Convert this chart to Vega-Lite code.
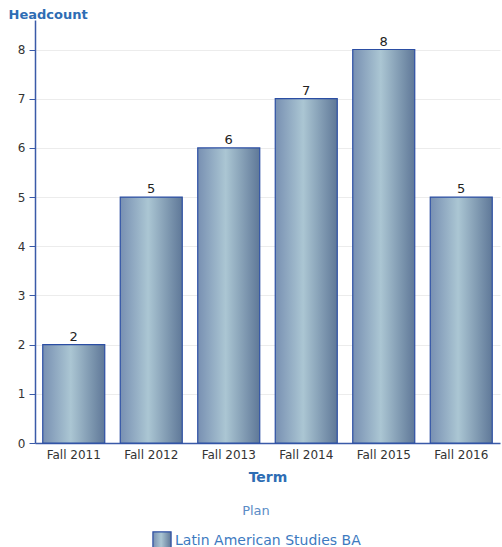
{
  "$schema": "https://vega.github.io/schema/vega-lite/v6.json",
  "width": 465,
  "height": 423,
  "autosize": {"type": "none"},
  "padding": {"left": 35, "top": 20, "right": 2, "bottom": 104},
  "background": "white",
  "config": {
    "view": {"stroke": null},
    "font": "DejaVu Sans"
  },
  "data": {
    "values": [
      {"Term": "Fall 2011", "Headcount": 2, "Plan": "Latin American Studies BA"},
      {"Term": "Fall 2012", "Headcount": 5, "Plan": "Latin American Studies BA"},
      {"Term": "Fall 2013", "Headcount": 6, "Plan": "Latin American Studies BA"},
      {"Term": "Fall 2014", "Headcount": 7, "Plan": "Latin American Studies BA"},
      {"Term": "Fall 2015", "Headcount": 8, "Plan": "Latin American Studies BA"},
      {"Term": "Fall 2016", "Headcount": 5, "Plan": "Latin American Studies BA"}
    ]
  },
  "encoding": {
    "x": {
      "field": "Term", "type": "nominal", "sort": null,
      "scale": {"paddingInner": 0.2, "paddingOuter": 0.1},
      "axis": {
        "title": "Term", "titleColor": "#2e6db4", "titleFontSize": 14, "titleFontWeight": "bold",
        "titleFont": "DejaVu Sans", "titlePadding": 10,
        "labelAngle": 0, "labelFontSize": 12, "labelColor": "#333333", "labelPadding": 6,
        "ticks": false, "domainColor": "#3a5aa8", "domainWidth": 1.5
      }
    },
    "y": {
      "field": "Headcount", "type": "quantitative",
      "scale": {"domain": [0, 8.6], "nice": false},
      "axis": {
        "title": "Headcount", "titleAngle": 0, "titleAlign": "left", "titleBaseline": "middle",
        "titleX": -27, "titleY": -6, "titleColor": "#2e6db4", "titleFontSize": 13, "titleFontWeight": "bold",
        "values": [0, 1, 2, 3, 4, 5, 6, 7, 8],
        "labelFontSize": 12, "labelColor": "#333333", "labelPadding": 4,
        "tickColor": "#3a5aa8", "tickSize": 6, "domainColor": "#3a5aa8", "domainWidth": 1.5,
        "grid": true, "gridColor": "#ececec"
      }
    }
  },
  "layer": [
    {
      "mark": {
        "type": "bar", "strokeWidth": 1.2, "fillOpacity": 1,
        "fill": {"gradient": "linear", "x1": 0, "y1": 0, "x2": 1, "y2": 0,
          "stops": [
            {"offset": 0, "color": "#7890b2"},
            {"offset": 0.45, "color": "#abc6d3"},
            {"offset": 1, "color": "#5f7898"}
          ]}
      },
      "encoding": {
        "stroke": {
          "field": "Plan", "type": "nominal",
          "scale": {"range": ["#2b4ea3"]},
          "legend": {
            "orient": "none", "legendX": 117, "legendY": 485,
            "title": "Plan", "titleOrient": "top", "titleAnchor": "middle",
            "titleColor": "#5a8cc6", "titleFontWeight": "normal", "titleFontSize": 13, "titlePadding": 13,
            "labelColor": "#3d7abf", "labelFontSize": 14, "labelOffset": 3, "labelLimit": 400,
            "symbolType": "square", "symbolSize": 330, "symbolStrokeWidth": 1.2,
            "symbolFillColor": {"expr": "{gradient: 'linear', x1: 0, y1: 0, x2: 1, y2: 0, stops: [{offset: 0, color: '#7890b2'}, {offset: 0.45, color: '#abc6d3'}, {offset: 1, color: '#5f7898'}]}"}
          }
        }
      }
    },
    {
      "mark": {"type": "text", "dy": -8, "fontSize": 13, "color": "#222222"},
      "encoding": {"text": {"field": "Headcount", "type": "quantitative"}}
    }
  ]
}
